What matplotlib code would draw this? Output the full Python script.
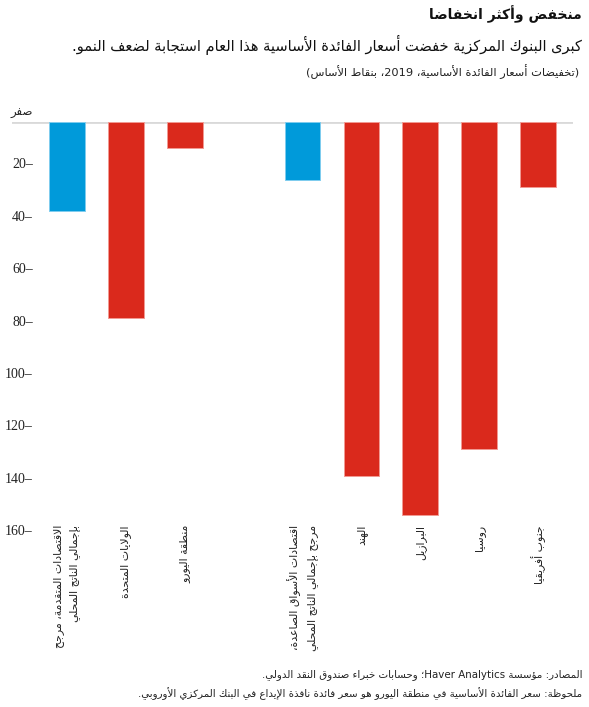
import re
import matplotlib
matplotlib.use('Agg')
import matplotlib.pyplot as plt
from matplotlib.transforms import ScaledTranslation

# chart values (basis points of policy rate cuts in 2019)
categories = [
    'الاقتصادات المتقدمة، مرجح\nبإجمالي الناتج المحلي',
    'الولايات المتحدة',
    'منطقة اليورو',
    'اقتصادات الأسواق الصاعدة،\nمرجح بإجمالي الناتج المحلي',
    'الهند',
    'البرازيل',
    'روسيا',
    'جنوب أفريقيا',
]
positions = [0, 1, 2, 4, 5, 6, 7, 8]
cuts = [34, 75, 10, 22, 135, 150, 125, 25]
is_aggregate = [True, False, False, True, False, False, False, False]
y_ticks = [0, 20, 40, 60, 80, 100, 120, 140, 160]
zero_label = 'صفر'

title = 'منخفض وأكثر انخفاضا'
subtitle = 'كبرى البنوك المركزية خفضت أسعار الفائدة الأساسية هذا العام استجابة لضعف النمو.'
units = '(تخفيضات أسعار الفائدة الأساسية، 2019، بنقاط الأساس)'
source = 'المصادر: مؤسسة Haver Analytics؛ وحسابات خبراء صندوق النقد الدولي.'
note = 'ملحوظة: سعر الفائدة الأساسية في منطقة اليورو هو سعر فائدة نافذة الإيداع في البنك المركزي الأوروبي.'

# matplotlib has no arabic shaping, so pick the presentation forms by hand
FORMS = {}
_code = 0xFE80
for ch, n in [('ء', 1), ('آ', 2), ('أ', 2), ('ؤ', 2), ('إ', 2), ('ئ', 4), ('ا', 2),
              ('ب', 4), ('ة', 2), ('ت', 4), ('ث', 4), ('ج', 4), ('ح', 4), ('خ', 4),
              ('د', 2), ('ذ', 2), ('ر', 2), ('ز', 2), ('س', 4), ('ش', 4), ('ص', 4),
              ('ض', 4), ('ط', 4), ('ظ', 4), ('ع', 4), ('غ', 4), ('ف', 4), ('ق', 4),
              ('ك', 4), ('ل', 4), ('م', 4), ('ن', 4), ('ه', 4), ('و', 2), ('ى', 2),
              ('ي', 4)]:
    FORMS[ch] = [chr(_code + i) for i in range(n)]
    _code += n
LAM_ALEF = {'آ': ('\uFEF5', '\uFEF6'), 'أ': ('\uFEF7', '\uFEF8'),
            'إ': ('\uFEF9', '\uFEFA'), 'ا': ('\uFEFB', '\uFEFC')}


def shape(text):
    out = []
    i = 0
    while i < len(text):
        c = text[i]
        if c not in FORMS:
            out.append(c)
            i += 1
            continue
        prev = text[i - 1] if i > 0 else ''
        nxt = text[i + 1] if i + 1 < len(text) else ''
        p = prev in FORMS and len(FORMS[prev]) == 4
        if c == 'ل' and nxt in LAM_ALEF:
            out.append(LAM_ALEF[nxt][1 if p else 0])
            i += 2
            continue
        f = FORMS[c]
        n = len(f) == 4 and nxt in FORMS and len(FORMS[nxt]) > 1
        if len(f) == 1:
            out.append(f[0])
        elif len(f) == 2:
            out.append(f[1] if p else f[0])
        else:
            out.append(f[3] if p and n else f[1] if p else f[2] if n else f[0])
        i += 1
    return ''.join(out)


def rtl(text):
    lines = []
    for line in text.split('\n'):
        s = shape(line)[::-1]
        s = ''.join({'(': ')', ')': '('}.get(c, c) for c in s)
        s = re.sub(r'[A-Za-z0-9]+(?:[ .][A-Za-z0-9]+)*', lambda m: m.group(0)[::-1], s)
        lines.append(s)
    return '\n'.join(lines)


plt.rcParams['font.family'] = ['DejaVu Sans']
W, H = 589, 707
fig = plt.figure(figsize=(W / 100, H / 100), dpi=100)
ax = fig.add_axes([12 / W, 1 - 541 / H, (573 - 12) / W, (541 - 122) / H])

blue = '#009ada'
red = '#da291c'
colors = [blue if a else red for a in is_aggregate]
edges = ['#7fcdef' if a else '#f29a93' for a in is_aggregate]
ax.bar(positions, cuts, width=0.61, color=colors, edgecolor=edges, linewidth=0.7, zorder=3)
ax.axhline(0, color='#d9d9d9', linewidth=2, zorder=2)

ax.set_xlim(-0.924, 8.585)
ax.set_ylim(160, 0)
for s in ax.spines.values():
    s.set_visible(False)

ax.set_yticks(y_ticks, [rtl(zero_label)] + [f'{v}–' for v in y_ticks[1:]])
ax.tick_params(axis='y', length=0, pad=-15.1, labelsize=10,
               labelfontfamily='Liberation Serif', labelcolor='#222222')
shift = ScaledTranslation(0, 11 / 100, fig.dpi_scale_trans)
for k, lab in enumerate(ax.get_yticklabels()):
    if k == 0:
        lab.set_family('DejaVu Sans')
        lab.set_fontsize(8.5)
    lab.set_transform(lab.get_transform() + shift)

ax.set_xticks(positions, [rtl(c) for c in categories])
ax.tick_params(axis='x', length=0, pad=-11.5, labelsize=7.8, labelcolor='#222222')
for lab in ax.get_xticklabels():
    lab.set_rotation(90)
    lab.set_va('top')
    lab.set_ha('center')
    lab.set_multialignment('right')
    lab.set_linespacing(1.75)

fig.text(582 / W, 1 - 19 / H, rtl(title), ha='right', va='baseline',
         fontsize=10, fontweight='bold', color='#111111')
fig.text(582 / W, 1 - 51 / H, rtl(subtitle), ha='right', va='baseline',
         fontsize=10.5, color='#111111')
fig.text(579 / W, 1 - 76 / H, rtl(units), ha='right', va='baseline',
         fontsize=8.2, color='#222222')
fig.text(582 / W, 1 - 677 / H, rtl(source), ha='right', va='baseline',
         fontsize=7.4, color='#222222')
fig.text(582 / W, 1 - 697 / H, rtl(note), ha='right', va='baseline',
         fontsize=7.4, color='#222222')

fig.savefig('out.png', dpi=100)
